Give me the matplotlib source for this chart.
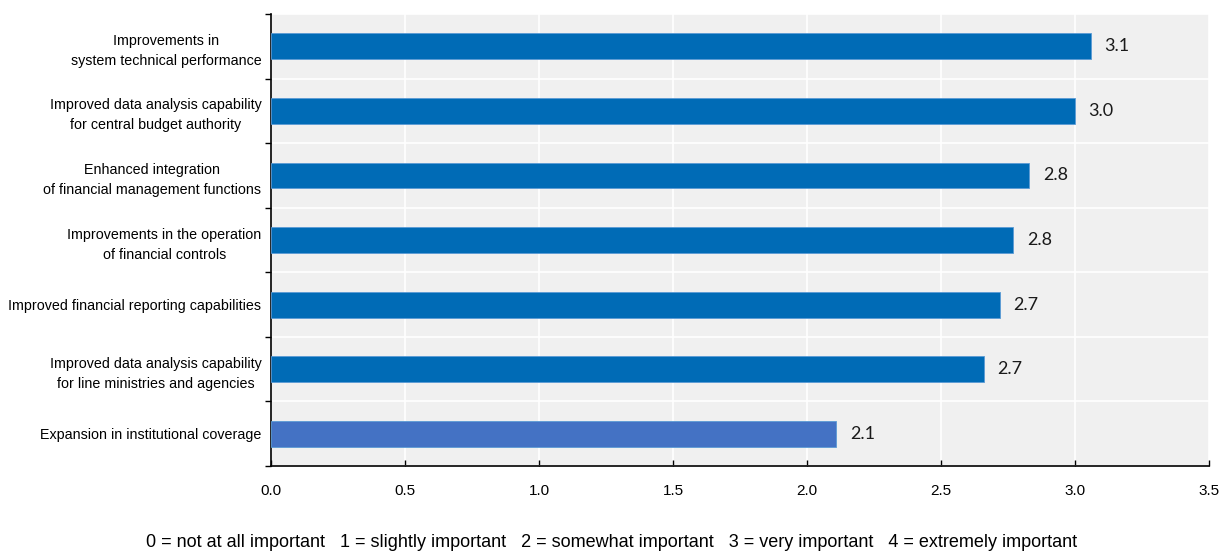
import numpy as np
import matplotlib.pyplot as plt

# Datos del grafico (de abajo hacia arriba)
categorias = [
    "Expansion in institutional coverage",
    "Improved data analysis capability\nfor line ministries and agencies",
    "Improved financial reporting capabilities",
    "Improvements in the operation\nof financial controls",
    "Enhanced integration\nof financial management functions",
    "Improved data analysis capability\nfor central budget authority",
    "Improvements in\nsystem technical performance",
]
valores = [2.11, 2.66, 2.72, 2.77, 2.83, 3.00, 3.06]
etiquetas = ["2.1", "2.7", "2.7", "2.8", "2.8", "3.0", "3.1"]
colores = ["#4472C4"] + ["#006BB6"] * 6
nota = ("0 = not at all important   1 = slightly important   2 = somewhat important   "
        "3 = very important   4 = extremely important")

fuente = ["Liberation Sans Narrow", "Liberation Sans", "DejaVu Sans"]

fig = plt.figure(figsize=(12.23, 5.54), dpi=100)
ax = fig.add_axes([0.2216, 0.1588, 0.9885 - 0.2216, 0.9747 - 0.1588])
ax.set_facecolor("#F0F0F0")

y = np.arange(len(categorias))
ax.barh(y, valores, height=0.4, color=colores, edgecolor="#5B9BD5", linewidth=0.6, zorder=3)

for yi, v, t in zip(y, valores, etiquetas):
    ax.text(v + 0.05, yi, t, va="center", ha="left", fontsize=13,
            family=["Lato", "DejaVu Sans"], color="#1a1a1a", zorder=4)

ax.set_xlim(0, 3.5)
ax.set_ylim(-0.5, len(categorias) - 0.5)
ax.set_xticks(np.arange(0, 3.51, 0.5))
ax.set_xticklabels([f"{v:.1f}" for v in np.arange(0, 3.51, 0.5)], family=fuente, fontsize=11)

# ticks mayores en los limites de categoria, etiquetas en los centros
ax.set_yticks(np.arange(-0.5, len(categorias), 1.0))
ax.set_yticklabels([])
ax.set_yticks(y, minor=True)
ax.set_yticklabels(categorias, minor=True, family=fuente, fontsize=10.3, ha="right",
                   multialignment="center", linespacing=1.55)
ax.tick_params(axis="y", which="minor", length=0, pad=7)
ax.tick_params(axis="y", which="major", length=4, width=1, direction="out", color="black")
ax.tick_params(axis="x", which="major", length=4, width=1, direction="in", pad=13, color="black")

ax.grid(True, which="major", color="white", linewidth=1.2, zorder=0)
ax.set_axisbelow(True)

for s in ["top", "right"]:
    ax.spines[s].set_visible(False)
ax.spines["left"].set_linewidth(1.2)
ax.spines["bottom"].set_linewidth(1.2)

fig.text(0.5, 0.02, nota, ha="center", va="center", fontsize=13, family=fuente)

fig.savefig("out.png", dpi=100)
